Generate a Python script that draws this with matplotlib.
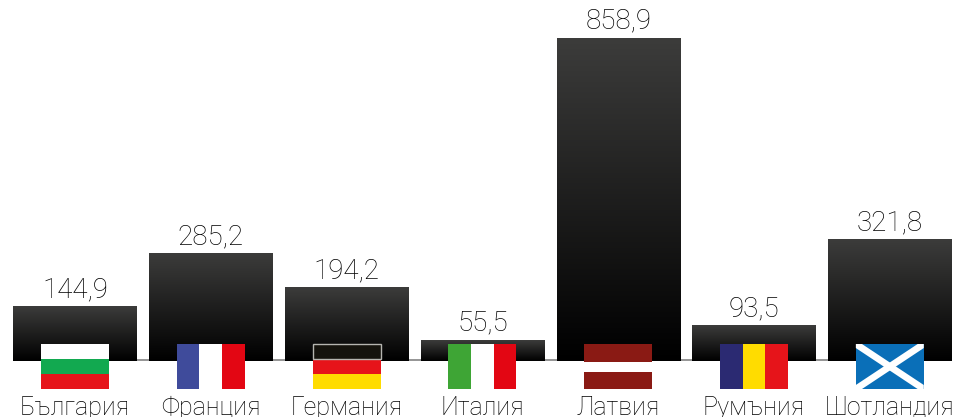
import matplotlib
matplotlib.use('Agg')
import matplotlib.pyplot as plt
from matplotlib.colors import LinearSegmentedColormap
from matplotlib.patches import Rectangle, Polygon
import numpy as np

countries = ['България', 'Франция', 'Германия', 'Италия', 'Латвия', 'Румъния', 'Шотландия']
values = [144.9, 285.2, 194.2, 55.5, 858.9, 93.5, 321.8]
value_labels = ['144,9', '285,2', '194,2', '55,5', '858,9', '93,5', '321,8']

plt.rcParams['font.family'] = ['Roboto', 'DejaVu Sans']

fig = plt.figure(figsize=(9.55, 4.17), dpi=100)
ax = fig.add_axes([0, 0, 1, 1])
ax.axis('off')

# 1 px = 2.659 units on y, bars repeat every 135.8 px
ax.set_xlim(-0.552, 6.48)
ax.set_ylim(-148.9, 960)

bar_w = 0.906
fl_w = 0.5
fl_top = 45.2
fl_bot = -74.5
fl_h = fl_top - fl_bot

ax.plot([0, 6], [4, 4], color='#8c8c8c', lw=1.3, zorder=1)

cmap = LinearSegmentedColormap.from_list('bar', ['#3c3c3b', '#000000'])
grad = np.linspace(0, 1, 256).reshape(-1, 1)

for i, v in enumerate(values):
    ax.imshow(grad, cmap=cmap, aspect='auto', zorder=2,
              extent=[i - bar_w / 2, i + bar_w / 2, 0, v])
    ax.annotate(value_labels[i], (i, v), xytext=(0, 2.5), textcoords='offset points',
                ha='center', va='bottom', fontsize=20, fontweight='light', color='#000000')
    ax.text(i, -143, countries[i], ha='center', va='baseline', fontsize=18,
            fontweight='light', color='#000000')
ax.set_xlim(-0.552, 6.48)
ax.set_ylim(-148.9, 960)


def hstripes(i, colors, fracs):
    y = fl_top
    for c, f in zip(colors, fracs):
        h = fl_h * f
        ax.add_patch(Rectangle((i - fl_w / 2, y - h), fl_w, h, fc=c, ec='none', zorder=3))
        y -= h


def vstripes(i, colors):
    w = fl_w / 3
    for k, c in enumerate(colors):
        ax.add_patch(Rectangle((i - fl_w / 2 + k * w, fl_bot), w, fl_h, fc=c, ec='none', zorder=3))


hstripes(0, ['#ffffff', '#12a950', '#e6141a'], [1 / 3, 1 / 3, 1 / 3])
vstripes(1, ['#3f4b9b', '#ffffff', '#e30613'])
hstripes(2, ['#15130d', '#e6141a', '#ffdc00'], [1 / 3, 1 / 3, 1 / 3])
ax.add_patch(Rectangle((2 - fl_w / 2, fl_top - fl_h / 3), fl_w, fl_h / 3, fc='none',
                       ec='#b5b5b0', lw=1, zorder=4))
vstripes(3, ['#3ea535', '#ffffff', '#e30613'])
hstripes(4, ['#8a1a14', '#ffffff', '#8a1a14'], [0.4, 0.22, 0.38])
vstripes(5, ['#2b2a72', '#ffdc00', '#e6141a'])

# scottish saltire
ax.add_patch(Rectangle((6 - fl_w / 2, fl_bot), fl_w, fl_h, fc='#0a6fb8', ec='none', zorder=3))
dx = fl_w * 0.09
dy = fl_h * 0.09
l, r = 6 - fl_w / 2, 6 + fl_w / 2
ax.add_patch(Polygon([(l, fl_top), (l + dx, fl_top), (r, fl_bot + dy), (r, fl_bot),
                      (r - dx, fl_bot), (l, fl_top - dy)], fc='white', ec='none', zorder=4))
ax.add_patch(Polygon([(r, fl_top), (r - dx, fl_top), (l, fl_bot + dy), (l, fl_bot),
                      (l + dx, fl_bot), (r, fl_top - dy)], fc='white', ec='none', zorder=4))

fig.savefig('out.png', dpi=100)
